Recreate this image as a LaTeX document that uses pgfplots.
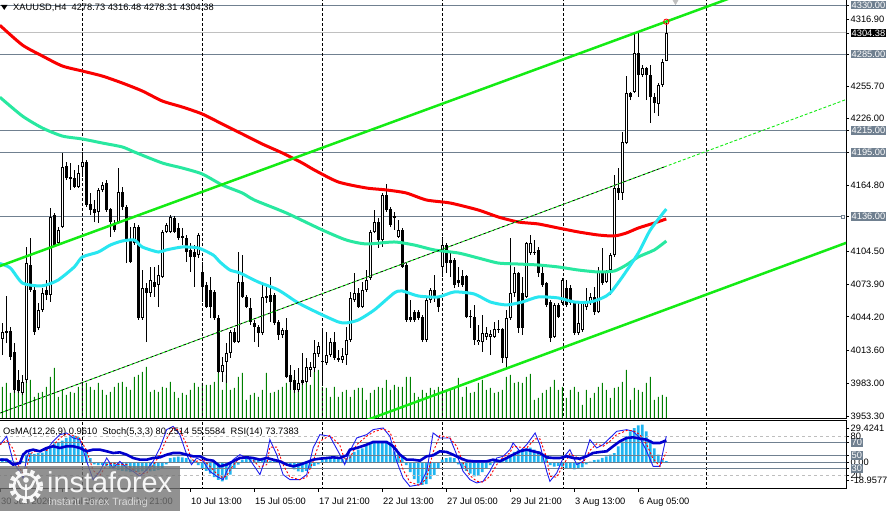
\documentclass[border=0pt]{standalone}
\usepackage{pgfplots}
\usepackage{pgfplotstable}
\pgfplotsset{compat=1.18}
\usepackage{fontspec}
\setmainfont{Liberation Sans}
\definecolor{slate}{RGB}{112,128,144}
\definecolor{maRed}{RGB}{250,0,0}
\definecolor{maTeal}{RGB}{40,232,160}
\definecolor{maCyan}{RGB}{40,230,240}
\definecolor{chGreen}{RGB}{20,235,20}
\definecolor{volGreen}{RGB}{0,128,0}
\definecolor{histBlue}{RGB}{30,180,240}
\definecolor{rsiBlue}{RGB}{0,0,205}
\definecolor{stochBlue}{RGB}{30,30,240}
\definecolor{curGray}{RGB}{192,192,192}
\definecolor{lvlGray}{RGB}{190,190,190}
\setlength{\fboxsep}{1pt}
\newcommand{\lab}{\fontsize{9.3}{11}\selectfont}
\newcommand{\gbox}[1]{\colorbox{slate}{\textcolor{white}{#1}}}
\newcommand{\bbox}[1]{\colorbox{black}{\textcolor{white}{#1}}}

\pgfplotstableread{
i o h l c v
0 4023.9 4038.6 4009.2 4030.3 32
1 4031.2 4063.3 4020.2 4029.4 36
2 4031.2 4034.9 4004.6 4007.4 26
3 4012.0 4020.2 3974.4 3977.2 42
4 3986.3 3995.5 3974.4 3976.2 29
5 3974.4 3990.9 3972.6 3984.5 36
6 3986.3 4108.2 3983.6 4093.5 42
7 4091.7 4116.5 4067.0 4068.8 39
8 4068.8 4071.6 4027.6 4030.3 22
9 4034.0 4056.9 4032.1 4050.5 26
10 4050.5 4070.6 4048.6 4066.1 27
11 4068.8 4078.0 4059.6 4064.2 32
12 4064.2 4144.0 4057.8 4135.7 42
13 4137.5 4139.4 4108.2 4110.1 51
14 4111.9 4126.5 4110.1 4123.8 22
15 4126.5 4194.4 4125.6 4181.5 29
16 4182.5 4186.1 4169.6 4171.5 24
17 4172.4 4185.2 4160.5 4170.5 27
18 4171.5 4178.8 4162.3 4163.2 26
19 4163.2 4183.4 4162.3 4176.0 32
20 4181.5 4195.3 4172.4 4186.1 37
21 4186.1 4187.9 4144.9 4146.7 36
22 4147.6 4157.7 4137.5 4142.1 32
23 4143.0 4151.3 4131.1 4139.4 29
24 4140.3 4162.3 4130.2 4160.5 36
25 4160.5 4167.8 4158.6 4165.0 29
26 4166.9 4169.6 4140.3 4142.1 24
27 4143.0 4143.9 4117.4 4131.1 27
28 4130.2 4133.0 4121.9 4123.8 32
29 4131.1 4180.6 4130.2 4158.6 36
30 4158.6 4163.2 4142.1 4144.9 37
31 4144.9 4146.7 4093.5 4114.6 32
32 4114.6 4126.5 4093.5 4094.5 29
33 4111.9 4130.2 4110.1 4126.5 42
34 4126.5 4128.4 4041.3 4043.1 44
35 4043.1 4087.1 4041.3 4070.6 47
36 4070.6 4075.2 4021.1 4066.1 52
37 4066.1 4089.9 4062.4 4078.0 27
38 4076.1 4089.9 4062.4 4071.6 29
39 4073.4 4091.7 4053.2 4082.6 27
40 4080.7 4123.8 4079.8 4121.9 32
41 4121.9 4130.2 4121.0 4128.4 31
42 4121.9 4137.5 4121.0 4135.7 37
43 4134.8 4136.6 4121.0 4121.9 27
44 4125.6 4130.2 4114.6 4116.5 21
45 4116.5 4125.6 4110.1 4118.3 26
46 4116.5 4119.2 4094.5 4103.6 24
47 4105.5 4111.9 4085.3 4099.1 29
48 4103.6 4110.1 4071.6 4099.1 36
49 4100.9 4121.0 4098.1 4119.2 32
50 4085.3 4094.5 4057.8 4071.6 36
51 4073.4 4076.1 4052.3 4053.2 34
52 4068.8 4080.7 4043.1 4053.2 34
53 4067.0 4068.8 4041.3 4043.1 37
54 4043.1 4045.9 3992.7 3993.6 46
55 3993.6 4007.4 3984.5 4000.1 29
56 4002.8 4020.2 3983.6 4011.1 44
57 4011.1 4032.1 4006.5 4030.3 29
58 4030.3 4034.0 4020.2 4021.1 31
59 4021.1 4103.6 4020.2 4076.1 42
60 4076.1 4100.9 4061.5 4062.4 46
61 4062.4 4064.2 4052.3 4053.2 19
62 4052.3 4061.5 4036.7 4039.5 24
63 4038.6 4041.3 4021.1 4034.9 26
64 4034.9 4036.7 4016.6 4029.4 22
65 4029.4 4073.4 4027.6 4062.4 29
66 4061.5 4071.6 4056.9 4063.3 46
67 4064.2 4080.7 4039.5 4057.8 26
68 4064.2 4066.1 4036.7 4038.6 27
69 4039.5 4041.3 4023.0 4027.6 29
70 4027.6 4034.0 4024.8 4032.1 32
71 4032.1 4043.1 3988.1 3989.1 36
72 3990.9 4000.1 3977.2 3984.5 46
73 3986.3 3995.5 3974.4 3977.2 42
74 3977.2 3997.3 3975.3 3983.6 36
75 3986.3 4011.1 3981.7 3983.6 37
76 3984.5 4006.5 3983.6 3998.2 36
77 3995.5 4002.8 3989.1 3998.2 34
78 3997.3 4023.0 3993.6 4011.1 47
79 4010.1 4021.1 4007.4 4017.5 49
80 4002.8 4032.1 3981.7 4003.7 32
81 4001.9 4030.3 4000.1 4009.2 31
82 4009.2 4024.8 4007.4 4021.1 22
83 4021.1 4030.3 4004.6 4006.5 32
84 4006.5 4013.8 4002.8 4004.6 22
85 4004.6 4015.6 4001.9 4008.3 27
86 4009.2 4034.9 4000.1 4023.0 29
87 4023.0 4067.0 4021.1 4061.5 22
88 4059.6 4084.4 4057.8 4066.1 29
89 4066.1 4070.6 4052.3 4053.2 31
90 4053.2 4076.1 4052.3 4068.8 31
91 4068.8 4087.1 4067.0 4078.0 19
92 4079.8 4123.8 4078.0 4121.9 26
93 4121.9 4142.1 4121.0 4131.1 29
94 4131.1 4134.8 4107.3 4114.6 32
95 4114.6 4157.7 4108.2 4155.9 31
96 4155.9 4166.0 4140.3 4142.1 39
97 4143.0 4144.9 4126.5 4128.4 29
98 4134.8 4140.3 4123.8 4136.6 34
99 4117.4 4133.0 4116.5 4123.8 32
100 4123.8 4125.6 4089.0 4089.9 32
101 4091.7 4093.5 4039.5 4041.3 42
102 4044.0 4059.6 4039.5 4041.3 42
103 4048.6 4050.5 4039.5 4041.3 26
104 4048.6 4050.5 4041.3 4043.1 22
105 4044.0 4045.9 4021.1 4023.0 29
106 4023.0 4061.5 4021.1 4059.6 26
107 4059.6 4070.6 4056.9 4068.8 31
108 4068.8 4082.6 4057.8 4061.5 29
109 4061.5 4062.4 4048.6 4053.2 32
110 4089.9 4117.4 4080.7 4110.1 26
111 4110.1 4111.9 4084.4 4093.5 27
112 4096.3 4102.7 4080.7 4093.5 29
113 4096.3 4098.1 4070.6 4073.4 31
114 4078.0 4089.9 4071.6 4075.2 41
115 4081.6 4087.1 4071.6 4073.4 22
116 4081.6 4082.6 4043.1 4044.0 32
117 4045.0 4050.5 4034.0 4044.0 26
118 4044.0 4055.1 4018.4 4023.0 27
119 4021.1 4036.7 4018.4 4023.0 36
120 4021.1 4045.9 4012.0 4029.4 39
121 4025.7 4034.9 4023.0 4029.4 29
122 4025.7 4032.1 4009.2 4028.5 31
123 4025.7 4039.5 4024.8 4033.1 26
124 4032.1 4041.3 4029.4 4033.1 27
125 4033.1 4034.0 4001.9 4006.5 29
126 4006.5 4050.5 3997.3 4043.1 42
127 4043.1 4116.5 4041.3 4066.1 44
128 4066.1 4089.9 4062.4 4084.4 36
129 4084.4 4085.3 4029.4 4034.0 37
130 4066.1 4080.7 4027.6 4034.0 36
131 4062.4 4112.8 4061.5 4111.9 42
132 4102.7 4119.2 4100.9 4111.9 45
133 4103.6 4114.6 4100.9 4102.7 19
134 4105.5 4108.2 4080.7 4084.4 21
135 4084.4 4089.9 4071.6 4073.4 26
136 4075.2 4076.1 4053.2 4055.1 29
137 4057.8 4059.6 4021.1 4024.8 32
138 4025.7 4056.9 4024.8 4055.1 39
139 4055.1 4056.9 4043.1 4044.0 29
140 4056.9 4079.8 4055.1 4078.0 32
141 4070.6 4078.0 4053.2 4055.1 21
142 4070.6 4073.4 4055.1 4056.9 29
143 4056.9 4057.8 4027.6 4029.4 32
144 4029.4 4056.9 4027.6 4038.6 27
145 4032.1 4057.8 4030.3 4056.9 14
146 4053.2 4070.6 4050.5 4057.8 29
147 4057.8 4066.1 4055.1 4062.4 21
148 4062.4 4071.6 4045.9 4048.6 26
149 4048.6 4089.9 4047.7 4085.3 32
150 4085.3 4107.3 4073.4 4075.2 36
151 4076.1 4087.1 4075.2 4085.3 29
152 4087.1 4102.7 4064.2 4100.9 21
153 4100.9 4174.2 4099.1 4162.3 31
154 4162.3 4180.6 4151.3 4157.7 32
155 4157.7 4213.6 4151.3 4204.4 37
156 4203.5 4264.9 4202.6 4249.4 49
157 4249.4 4250.3 4242.9 4245.7 19
158 4250.3 4304.4 4249.4 4286.0 31
159 4286.0 4304.4 4245.7 4265.9 29
160 4265.9 4275.0 4264.0 4272.3 27
161 4272.3 4273.2 4242.9 4265.9 36
162 4265.9 4275.0 4221.9 4245.7 42
163 4245.7 4249.4 4231.0 4240.2 19
164 4239.3 4258.5 4228.3 4256.7 22
165 4256.7 4280.5 4254.9 4277.8 24
166 4278.73 4316.48 4278.31 4304.38 22
}\candles

\pgfplotstableread{
i p
-0.6 4311.4
5 4293.4
10 4283.3
15 4274.1
20 4269.5
25 4264.9
30 4258.5
35 4251.2
40 4242.0
45 4236.5
50 4230.1
55 4220.9
60 4211.8
65 4202.6
70 4194.4
75 4185.2
78 4178.8
84 4167.8
91 4162.3
96 4160.5
101 4157.7
106 4151.3
112 4148.5
119 4142.1
124 4135.7
129 4131.1
134 4129.3
139 4125.6
144 4122.0
149 4119.2
153 4118.3
156 4121.0
159 4125.6
163 4130.2
166 4133.9
}\maR

\pgfplotstableread{
i p
-0.6 4245.5
5 4228.3
10 4217.3
15 4209.9
20 4207.2
25 4203.5
30 4199.9
33 4195.3
40 4185.2
45 4180.6
50 4175.1
55 4165.0
60 4157.7
63 4151.3
71 4139.4
80 4123.8
86 4114.6
91 4111.0
98 4112.8
103 4110.0
108 4105.5
114 4102.7
119 4098.1
124 4093.5
129 4092.6
134 4091.7
139 4089.9
144 4087.1
149 4085.3
153 4086.2
156 4091.7
159 4099.1
163 4105.5
166 4113.7
}\maT

\pgfplotstableread{
i p
-0.6 4093.0
2 4089.0
5 4075.2
9 4072.5
11 4073.4
14 4078.0
18 4089.9
20 4099.0
24 4103.6
27 4110.0
30 4113.7
33 4114.6
35 4108.2
39 4103.6
41 4105.5
45 4108.2
49 4107.3
52.7 4100.9
54.4 4094.5
56.9 4087.1
59.4 4084.4
64 4076.1
69 4068.8
74 4056.9
79 4047.7
84 4039.5
86 4038.6
89 4041.3
93 4050.5
98 4066.1
100 4067.9
104 4063.3
109 4062.4
113 4067.0
118 4065.1
122 4057.8
126 4055.1
130 4057.8
134 4062.4
139 4061.5
143 4057.8
147 4057.8
150 4061.5
152 4066.1
155 4080.7
159 4102.7
162 4123.8
166 4143.0
}\maC

\pgfplotstableread{
i osma
0 3.0
1 2.5
2 1.5
3 0.5
4 -0.5
5 0.8
6 5.5
7 6.5
8 6.0
9 6.5
10 7.0
11 8.5
12 10.5
13 13.5
14 14.0
15 15.5
16 17.5
17 18.5
18 19.0
19 18.0
20 11.5
21 9.0
22 3.0
23 -1.5
24 -2.0
25 -2.0
26 -2.5
27 -4.0
28 -5.0
29 -5.5
30 -6.0
31 -6.5
32 -7.0
33 -6.5
34 -7.0
35 -6.5
36 -6.0
37 -6.5
38 -6.0
39 -5.5
40 -4.0
41 -1.5
42 3.0
43 3.5
44 4.0
45 3.5
46 3.0
47 2.0
48 1.5
49 -2.0
50 -4.0
51 -6.0
52 -8.0
53 -10.5
54 -12.5
55 -13.5
56 -12.3
57 -8.8
58 -4.0
59 -1.7
60 2.0
61 3.0
62 2.5
63 2.5
64 2.0
65 2.5
66 1.5
67 1.0
68 0.8
69 0.5
70 -0.5
71 -1.5
72 -3.0
73 -5.0
74 -6.5
75 -7.0
76 -6.0
77 -4.5
78 -2.5
79 -1.5
80 1.5
81 2.5
82 3.0
83 3.0
84 2.5
85 2.5
86 3.0
87 5.5
88 7.5
89 9.0
90 10.0
91 11.5
92 13.0
93 14.0
94 14.5
95 14.5
96 14.0
97 12.5
98 7.8
99 6.0
100 4.3
101 -2.0
102 -7.0
103 -12.0
104 -15.0
105 -16.0
106 -15.5
107 -12.0
108 -9.0
109 -4.5
110 2.0
111 3.0
112 3.5
113 3.0
114 -1.5
115 -4.0
116 -6.0
117 -8.0
118 -10.0
119 -9.5
120 -7.0
121 -4.0
122 -2.0
123 1.0
124 2.0
125 2.5
126 3.0
127 5.5
128 7.5
129 8.5
130 9.5
131 10.0
132 10.5
133 9.0
134 8.0
135 5.5
136 3.5
137 -2.0
138 -3.0
139 -2.5
140 -3.0
141 -4.0
142 -4.5
143 -5.0
144 -4.5
145 -3.5
146 -1.5
147 0.5
148 1.5
149 1.9
150 3.1
151 4.3
152 5.5
153 6.6
154 11.4
155 14.9
156 18.5
157 22.0
158 24.4
159 26.3
160 26.8
161 22.0
162 16.0
163 10.0
164 5.5
165 1.9
166 0.961
}\osma

\pgfplotstableread{
i m s
-0.6 67.1 67.1
1.1 80.0 73.6
2.7 41.5 60.8
4.0 28.6 35.1
5.2 15.8 22.2
6.1 46.6 31.2
6.9 59.4 53.0
8.6 56.9 58.2
11.1 59.4 58.2
12.7 72.3 65.9
14.4 82.5 77.4
16.1 85.1 83.8
17.7 77.4 81.3
19.4 74.8 76.1
21.1 41.5 58.2
22.7 13.3 27.4
24.4 26.1 19.7
26.1 46.6 36.4
27.7 31.2 38.9
29.4 41.5 36.4
31.1 31.2 36.4
32.7 26.1 28.7
34.4 18.4 22.3
36.1 28.6 23.5
37.7 41.5 35.1
39.4 62.0 51.8
41.1 90.2 76.1
42.7 95.3 92.8
44.4 82.5 88.9
46.1 51.7 67.1
47.3 36.4 44.1
48.6 46.6 41.5
50.2 41.5 44.1
51.9 26.1 33.8
53.6 18.4 22.3
55.2 13.3 15.9
56.1 26.1 19.7
57.7 44.0 35.1
59.4 51.7 47.9
61.9 44.0 47.9
64.4 21.0 32.5
66.1 51.7 36.4
66.9 74.8 63.3
68.6 51.7 63.3
70.2 21.0 36.4
71.9 13.3 17.2
74.4 13.3 13.3
76.1 21.0 17.2
77.7 62.0 41.5
79.4 82.5 72.3
81.9 80.0 81.3
84.4 51.7 65.9
85.6 36.4 44.1
86.9 56.9 46.7
88.6 77.4 67.2
91.1 82.5 80.0
92.7 90.2 86.4
95.2 92.8 91.5
96.9 80.0 86.4
98.6 41.5 60.8
100.2 15.8 28.7
101.9 3.0 9.4
104.4 5.6 4.3
106.1 26.1 15.9
107.7 85.1 55.6
109.4 77.4 81.3
111.9 77.4 77.4
113.6 51.7 64.6
115.2 26.1 38.9
116.9 13.3 19.7
118.6 8.2 10.8
120.2 10.7 9.5
121.9 26.1 18.4
123.6 46.6 36.4
125.2 49.2 47.9
126.9 59.4 54.3
127.7 69.7 64.6
129.4 56.9 63.3
131.1 67.1 62.0
133.2 85.1 76.1
134.4 67.1 76.1
136.1 26.1 46.6
136.9 10.7 18.4
138.6 23.5 17.1
140.2 46.6 35.1
141.9 59.4 53.0
143.6 36.4 47.9
145.2 41.5 39.0
146.9 74.8 58.2
148.6 62.0 68.4
150.2 67.1 64.6
151.9 77.4 72.3
153.6 87.6 82.5
156.1 90.2 88.9
157.7 87.6 88.9
159.4 77.4 82.5
161.1 56.9 67.2
162.7 33.8 45.4
164.4 33.8 33.8
166 80.2514 55.5584
}\stoch

\pgfplotstableread{
i r
-0.6 44.0
1.1 44.0
2.7 36.4
4.4 38.9
5.2 51.7
6.1 56.9
7.7 59.4
9.4 56.9
11.1 62.0
12.7 64.6
14.4 62.0
16.1 64.6
17.7 64.6
19.4 62.0
21.1 56.9
22.7 59.4
24.4 59.4
26.1 56.9
27.7 54.3
29.4 55.3
31.1 51.7
32.7 46.6
34.4 44.0
36.1 44.0
37.7 46.6
39.4 47.6
41.1 51.7
42.7 54.3
44.4 54.3
46.1 51.7
47.7 49.2
49.4 49.2
51.1 44.0
52.7 42.5
54.4 33.8
56.1 36.4
57.7 41.5
59.4 46.6
61.1 47.6
62.7 46.6
64.4 44.0
66.1 46.6
67.7 44.0
69.4 41.5
71.1 36.4
72.7 33.8
74.4 36.4
76.1 40.0
77.7 44.0
79.4 45.6
81.1 46.6
82.7 47.6
84.4 46.6
86.1 50.7
86.9 59.4
88.6 62.0
91.1 67.1
92.7 71.2
94.4 71.2
96.1 71.2
97.7 64.6
99.4 51.7
101.1 44.0
102.7 44.0
104.4 42.5
106.1 49.2
107.7 50.7
109.4 56.9
111.1 55.8
112.7 51.7
114.4 46.6
116.1 42.5
117.7 41.5
119.4 41.5
121.1 41.5
122.7 44.0
124.4 41.5
126.1 46.6
127.7 51.7
129.4 56.9
131.1 59.4
132.7 56.9
134.4 54.3
136.1 47.6
137.7 46.6
139.4 46.6
141.1 49.2
142.7 46.6
144.4 45.6
146.1 49.2
147.7 54.3
149.4 55.8
151.1 56.9
152.7 64.6
154.4 72.3
156.1 77.4
157.7 78.4
159.4 76.4
161.1 74.8
162.7 69.7
164.4 69.7
166 73.7383
}\rsi

\pgfplotsset{
  mainax/.style={scale only axis, width=846pt, height=419pt, xmin=-0.575, xmax=210.925, at={(0pt,92pt)}, anchor=south west},
  indax/.style={scale only axis, width=846pt, height=68pt, xmin=-0.575, xmax=210.925, at={(0pt,22pt)}, anchor=south west},
}

\begin{document}
\begin{tikzpicture}
\useasboundingbox (0pt,0pt) rectangle (892pt,511pt);
\fill[white] (0pt,0pt) rectangle (892pt,511pt);

% volumes
\begin{axis}[mainax, ymin=0, ymax=419, hide axis]
\addplot[ybar, bar width=1pt, bar shift=0pt, fill=volGreen, draw=none] table[x=i,y=v]{\candles};
\end{axis}

% price panel
\begin{axis}[mainax, ymin=3950.55, ymax=4334.6,
  axis line style={black, line width=1pt},
  xtick=\empty,
  ytick pos=right, yticklabel pos=right,
  ytick={3953.3,3983.0,4013.6,4044.2,4073.9,4104.5,4136,4164.8,4195,4215,4226,4255.7,4285,4304.38,4316.9,4330},
  yticklabels={3953.30,3983.00,4013.60,4044.20,4073.90,4104.50,\gbox{4136.00},4164.80,\gbox{4195.00},\gbox{4215.00},4226.00,4255.70,\gbox{4285.00},\bbox{4304.38},4316.90,\gbox{4330.00}},
  tick align=outside, major tick length=3pt, tick style={black, line width=0.8pt},
  yticklabel style={font=\lab, inner sep=1.5pt},
]
\addplot[slate, line width=1pt] coordinates {(-1,4330)(212,4330)};
\addplot[slate, line width=1pt] coordinates {(-1,4285)(212,4285)};
\addplot[slate, line width=1pt] coordinates {(-1,4215)(212,4215)};
\addplot[slate, line width=1pt] coordinates {(-1,4195)(212,4195)};
\addplot[slate, line width=1pt] coordinates {(-1,4136)(209.8,4136)};
\addplot[curGray, line width=1pt] coordinates {(-1,4304.38)(212,4304.38)};
\addplot[black, line width=0.9pt, dash pattern=on 3pt off 2pt] coordinates {(19.925,3940)(19.925,4340)};
\addplot[black, line width=0.9pt, dash pattern=on 3pt off 2pt] coordinates {(49.925,3940)(49.925,4340)};
\addplot[black, line width=0.9pt, dash pattern=on 3pt off 2pt] coordinates {(79.925,3940)(79.925,4340)};
\addplot[black, line width=0.9pt, dash pattern=on 3pt off 2pt] coordinates {(109.925,3940)(109.925,4340)};
\addplot[black, line width=0.9pt, dash pattern=on 3pt off 2pt] coordinates {(140.2,3940)(140.2,4340)};
\addplot[black, line width=0.9pt, dash pattern=on 3pt off 2pt] coordinates {(175.925,3940)(175.925,4340)};
% candles: wicks, bodies, hollow insides
\addplot[draw=none, mark=none, error bars/.cd, y dir=plus, y explicit, error mark=none, error bar style={draw=black, line width=1pt}]
  table[x=i, y=l, y error expr={\thisrow{h}-\thisrow{l}}]{\candles};
\addplot[draw=none, mark=none, error bars/.cd, y dir=plus, y explicit, error mark=none, error bar style={draw=black, line width=3.2pt}]
  table[x=i, y expr={min(\thisrow{o},\thisrow{c})}, y error expr={max(abs(\thisrow{c}-\thisrow{o}),0.9)}]{\candles};
\addplot[draw=none, mark=none, error bars/.cd, y dir=plus, y explicit, error mark=none, error bar style={draw=white, line width=1.2pt}]
  table[x=i, y expr={\thisrow{o}+0.92}, y error expr={max(\thisrow{c}-\thisrow{o}-1.84,0)}]{\candles};
% moving averages
\addplot[maRed, line width=3pt, smooth, tension=0.4] table[x=i,y=p]{\maR};
\addplot[maTeal, line width=3pt, smooth, tension=0.4] table[x=i,y=p]{\maT};
\addplot[maCyan, line width=3pt, smooth, tension=0.4] table[x=i,y=p]{\maC};
% channel
\addplot[chGreen, line width=2.5pt] coordinates {(-1,4090.2)(212,4376.7)};
\addplot[chGreen, line width=0.9pt, dash pattern=on 3pt off 2pt] coordinates {(-1,3955.4)(212,4244.8)};
\addplot[black, line width=0.8pt, dash pattern=on 2.5pt off 2.5pt, dash phase=2.5pt] coordinates {(-1,3955.4)(166,4182.3)};
\addplot[chGreen, line width=2.5pt] coordinates {(90,3948.0)(212,4113.4)};
% markers
\addplot[only marks, mark=o, mark size=2.7pt, draw=red, line width=0.8pt] coordinates {(166,4314.7)};
\addplot[only marks, mark=square, mark size=1.6pt, draw=slate, line width=0.8pt] coordinates {(210.2,4136)};
\addplot[only marks, mark=triangle*, mark size=4pt, mark options={rotate=180, fill=black!25, draw=black!25}] coordinates {(168.3,4334.0)};
\end{axis}

% OsMA panel
\begin{axis}[indax, ymin=-18.9577, ymax=29.4241,
  axis line style={black, line width=1pt},
  xtick={-0.575,14.925,30.925,46.925,62.925,78.925,94.925,110.925,126.925,142.925,158.925},
  xticklabels={30 Jun 2026,3 Jul 05:00,7 Jul 21:00,10 Jul 13:00,15 Jul 05:00,17 Jul 21:00,22 Jul 13:00,27 Jul 05:00,29 Jul 21:00,3 Aug 13:00,6 Aug 05:00},
  xtick pos=bottom,
  ytick pos=right, yticklabel pos=right,
  ytick={-12.91,0,24.44}, yticklabels={-18.9577,0.00,29.4241},
  tick align=outside, major tick length=3pt, tick style={black, line width=0.8pt},
  yticklabel style={font=\lab, inner sep=1.5pt},
  xticklabel style={font=\lab, anchor=north west, inner sep=1pt, yshift=-4.5pt},
]
\addplot[black, line width=0.9pt, dash pattern=on 3pt off 2pt] coordinates {(19.925,-30)(19.925,40)};
\addplot[black, line width=0.9pt, dash pattern=on 3pt off 2pt] coordinates {(49.925,-30)(49.925,40)};
\addplot[black, line width=0.9pt, dash pattern=on 3pt off 2pt] coordinates {(79.925,-30)(79.925,40)};
\addplot[black, line width=0.9pt, dash pattern=on 3pt off 2pt] coordinates {(109.925,-30)(109.925,40)};
\addplot[black, line width=0.9pt, dash pattern=on 3pt off 2pt] coordinates {(140.2,-30)(140.2,40)};
\addplot[black, line width=0.9pt, dash pattern=on 3pt off 2pt] coordinates {(175.925,-30)(175.925,40)};
\addplot[ybar, bar width=2.7pt, bar shift=0pt, fill=histBlue, draw=none] table[x=i,y=osma]{\osma};
\addplot[slate, line width=1pt] coordinates {(-1,0)(212,0)};
\end{axis}

% Stoch / RSI panel
\begin{axis}[indax, ymin=-1.08, ymax=103.5,
  axis line style={draw=none},
  xtick=\empty,
  ytick pos=right, yticklabel pos=right,
  ytick={20,30,50,70,80}, yticklabels={20,\gbox{30},\gbox{50},\gbox{70},80},
  tick align=outside, major tick length=3pt, tick style={black, line width=0.8pt},
  yticklabel style={font=\lab, inner sep=1.5pt},
]
\addplot[lvlGray, line width=1pt, dash pattern=on 3pt off 3pt] coordinates {(-1,80)(212,80)};
\addplot[slate, line width=1pt] coordinates {(-1,70)(212,70)};
\addplot[slate, line width=1pt] coordinates {(-1,50)(212,50)};
\addplot[slate, line width=1pt] coordinates {(-1,30)(212,30)};
\addplot[lvlGray, line width=1pt, dash pattern=on 3pt off 3pt] coordinates {(-1,20)(212,20)};
\addplot[stochBlue, line width=0.9pt] table[x=i,y=m]{\stoch};
\addplot[red, line width=0.9pt, dash pattern=on 2pt off 2pt] table[x=i,y=s]{\stoch};
\addplot[rsiBlue, line width=2.6pt] table[x=i,y=r]{\rsi};
\end{axis}

% titles
\fill[black] (1pt,506pt) -- (7.5pt,506pt) -- (4.25pt,501pt) -- cycle;
\node[anchor=base west, inner sep=0pt, font=\lab] at (13pt,500.5pt) {XAUUSD,H4\ \ 4278.73 4316.48 4278.31 4304.38};
\node[anchor=base west, inner sep=0pt, font=\lab] at (3pt,76.5pt) {OsMA(12,26,9) 0.9610\ \ Stoch(5,3,3) 80.2514 55.5584\ \ RSI(14) 73.7383};

% logo
\fill[black!55, opacity=0.78] (0pt,0pt) rectangle (180pt,44.5pt);
\begin{scope}[opacity=0.92]
\draw[white, line width=5pt, dash pattern=on 4pt off 3.2pt] (26pt,25pt) circle (14.5pt);
\draw[white, line width=2.6pt] (26pt,25pt) circle (12pt);
\fill[white] (26pt,31pt) circle (2.8pt);
\draw[white, line width=2.6pt, line cap=round] (26pt,26pt) -- (26pt,14pt);
\draw[white, line width=2.4pt, line cap=round] (26pt,22pt) .. controls (21pt,23pt) .. (18pt,30pt);
\draw[white, line width=2.4pt, line cap=round] (26pt,22pt) .. controls (31pt,23pt) .. (34pt,30pt);
\node[anchor=base west, inner sep=0pt, text=white, font=\fontsize{28.8}{30}\selectfont] at (47pt,18pt) {instaforex};
\node[anchor=base west, inner sep=0pt, text=white!88!black, font=\fontsize{10.5}{12}\selectfont] at (48pt,5.5pt) {Instant Forex Trading};
\end{scope}
\end{tikzpicture}
\end{document}
